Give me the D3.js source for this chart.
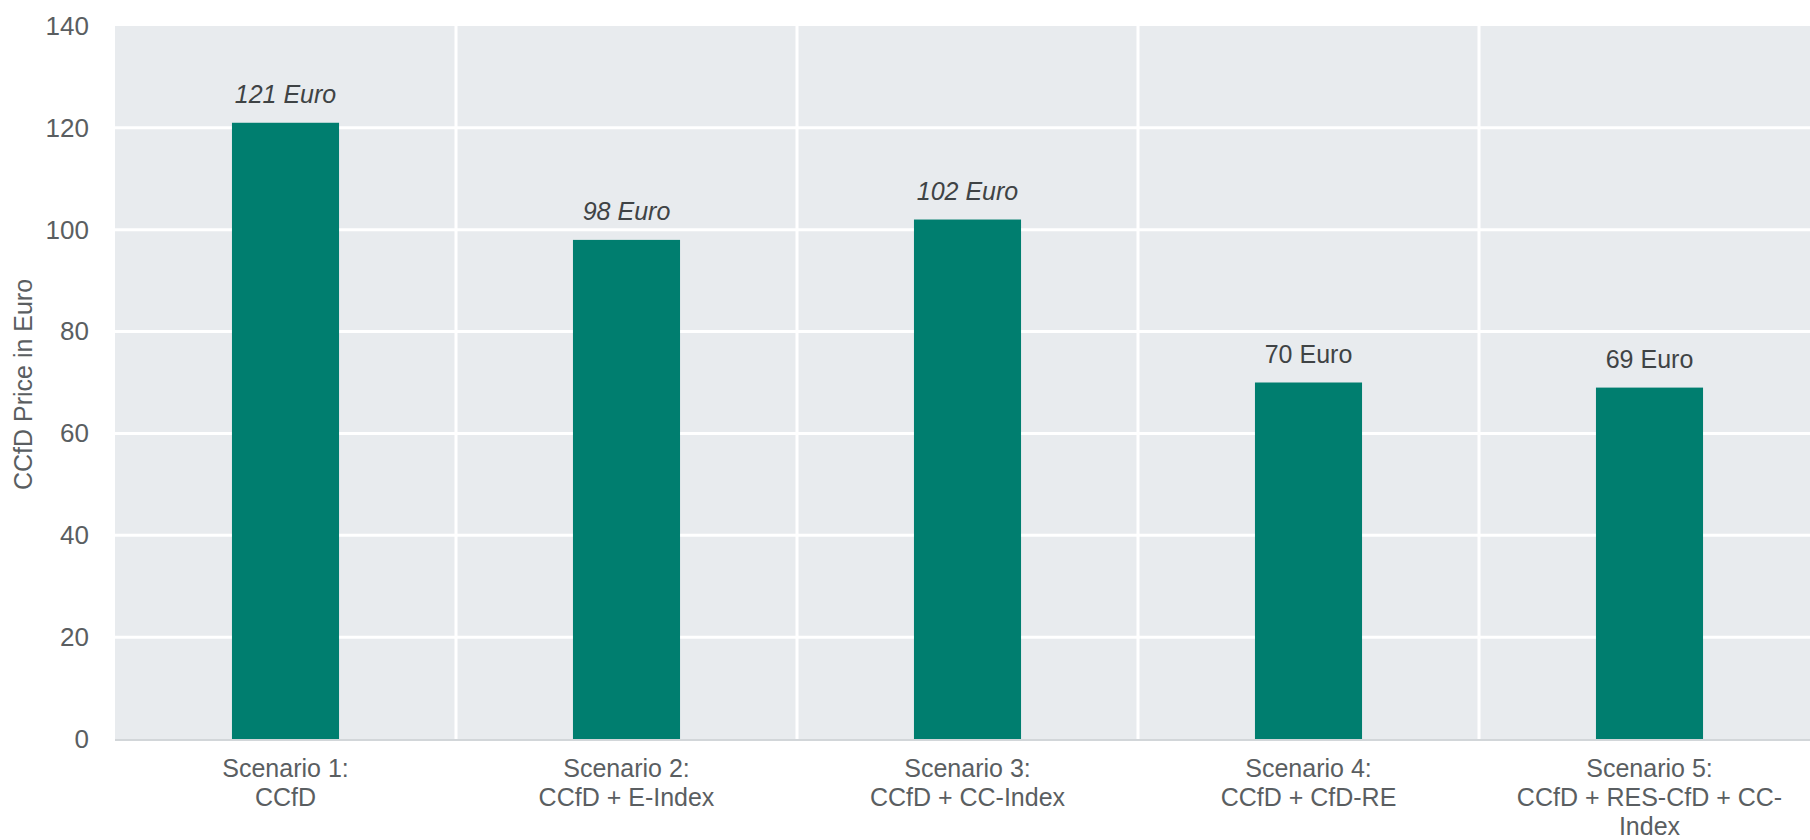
<!DOCTYPE html>
<html lang="en">
<head>
<meta charset="UTF-8">
<title>CCfD Price by Scenario</title>
<script src="https://d3js.org/d3.v7.min.js"></script>
<style>
    body, html {
        margin: 0;
        padding: 0;
        background: #fff;
        overflow: hidden;
    }
    svg text {
        font-family: "Liberation Sans", Arial, sans-serif;
    }
</style>
</head>
<body>
<div id="chart"></div>
<script>
    // data
    const scenarios = ["Scenario 1", "Scenario 2", "Scenario 3", "Scenario 4", "Scenario 5"];
    const scenarioLines = [
        ["Scenario 1:", "CCfD"],
        ["Scenario 2:", "CCfD + E-Index"],
        ["Scenario 3:", "CCfD + CC-Index"],
        ["Scenario 4:", "CCfD + CfD-RE"],
        ["Scenario 5:", "CCfD + RES-CfD + CC-", "Index"]
    ];
    const prices = [121, 98, 102, 70, 69];
    const valueLabels = ["121 Euro", "98 Euro", "102 Euro", "70 Euro", "69 Euro"];
    const italicLabel = [true, true, true, false, false];
    const yTicks = [0, 20, 40, 60, 80, 100, 120, 140];

    const width = 1810, height = 840;
    const plotLeft = 115, plotTop = 26, plotBottom = 739;
    const step = 341;
    const plotRight = plotLeft + step * scenarios.length;

    const svg = d3.select("#chart")
        .append("svg")
        .attr("width", width)
        .attr("height", height);

    const x = d3.scaleBand()
        .domain(scenarios)
        .range([plotLeft, plotRight])
        .padding(0);

    const y = d3.scaleLinear()
        .domain([0, 140])
        .range([plotBottom, plotTop]);

    const barW = x.bandwidth() * 0.314;

    // plot background
    svg.append("rect")
        .attr("x", plotLeft)
        .attr("y", plotTop)
        .attr("width", plotRight - plotLeft)
        .attr("height", plotBottom - plotTop)
        .attr("fill", "#e8ebee");

    // horizontal grid lines
    svg.append("g")
        .selectAll("line")
        .data(yTicks.filter(d => d > 0 && d < 140))
        .enter().append("line")
        .attr("x1", plotLeft)
        .attr("x2", plotRight)
        .attr("y1", d => y(d))
        .attr("y2", d => y(d))
        .attr("stroke", "#fff")
        .attr("stroke-width", 3);

    // vertical separators between categories
    svg.append("g")
        .selectAll("line")
        .data(scenarios.slice(1))
        .enter().append("line")
        .attr("x1", d => x(d))
        .attr("x2", d => x(d))
        .attr("y1", plotTop)
        .attr("y2", plotBottom)
        .attr("stroke", "#fff")
        .attr("stroke-width", 3);

    // bars
    svg.append("g")
        .selectAll("rect")
        .data(prices)
        .enter().append("rect")
        .attr("x", (d, i) => x(scenarios[i]) + (x.bandwidth() - barW) / 2)
        .attr("y", d => y(d))
        .attr("width", barW)
        .attr("height", d => y(0) - y(d))
        .attr("fill", "#007e6f");

    // baseline
    svg.append("line")
        .attr("x1", plotLeft)
        .attr("x2", plotRight)
        .attr("y1", plotBottom + 1)
        .attr("y2", plotBottom + 1)
        .attr("stroke", "#d2d6d9")
        .attr("stroke-width", 2);

    // value labels
    svg.append("g")
        .selectAll("text")
        .data(prices)
        .enter().append("text")
        .attr("x", (d, i) => x(scenarios[i]) + x.bandwidth() / 2)
        .attr("y", d => y(d) - 20)
        .attr("text-anchor", "middle")
        .style("font-size", "25px")
        .style("font-style", (d, i) => italicLabel[i] ? "italic" : "normal")
        .attr("fill", "#3f4345")
        .text((d, i) => valueLabels[i]);

    // y axis tick labels
    const yAxis = d3.axisLeft(y).tickValues(yTicks).tickSize(0).tickPadding(26);
    const gy = svg.append("g")
        .attr("transform", `translate(${plotLeft},0)`)
        .call(yAxis);
    gy.select(".domain").remove();
    gy.selectAll("text")
        .style("font-size", "26px")
        .attr("fill", "#5a5e61");

    // category labels
    const cat = svg.append("g")
        .selectAll("text")
        .data(scenarioLines)
        .enter().append("text")
        .attr("text-anchor", "middle")
        .style("font-size", "25px")
        .attr("fill", "#5a5e61");
    cat.each(function(lines, i) {
        d3.select(this).selectAll("tspan")
            .data(lines)
            .enter().append("tspan")
            .attr("x", x(scenarios[i]) + x.bandwidth() / 2)
            .attr("y", (d, j) => 777 + j * 29)
            .text(d => d);
    });

    // y axis title
    svg.append("text")
        .attr("transform", `translate(32,${(plotTop + plotBottom) / 2 + 2}) rotate(-90)`)
        .attr("text-anchor", "middle")
        .style("font-size", "25px")
        .attr("fill", "#5a5e61")
        .text("CCfD Price in Euro");
</script>
</body>
</html>
